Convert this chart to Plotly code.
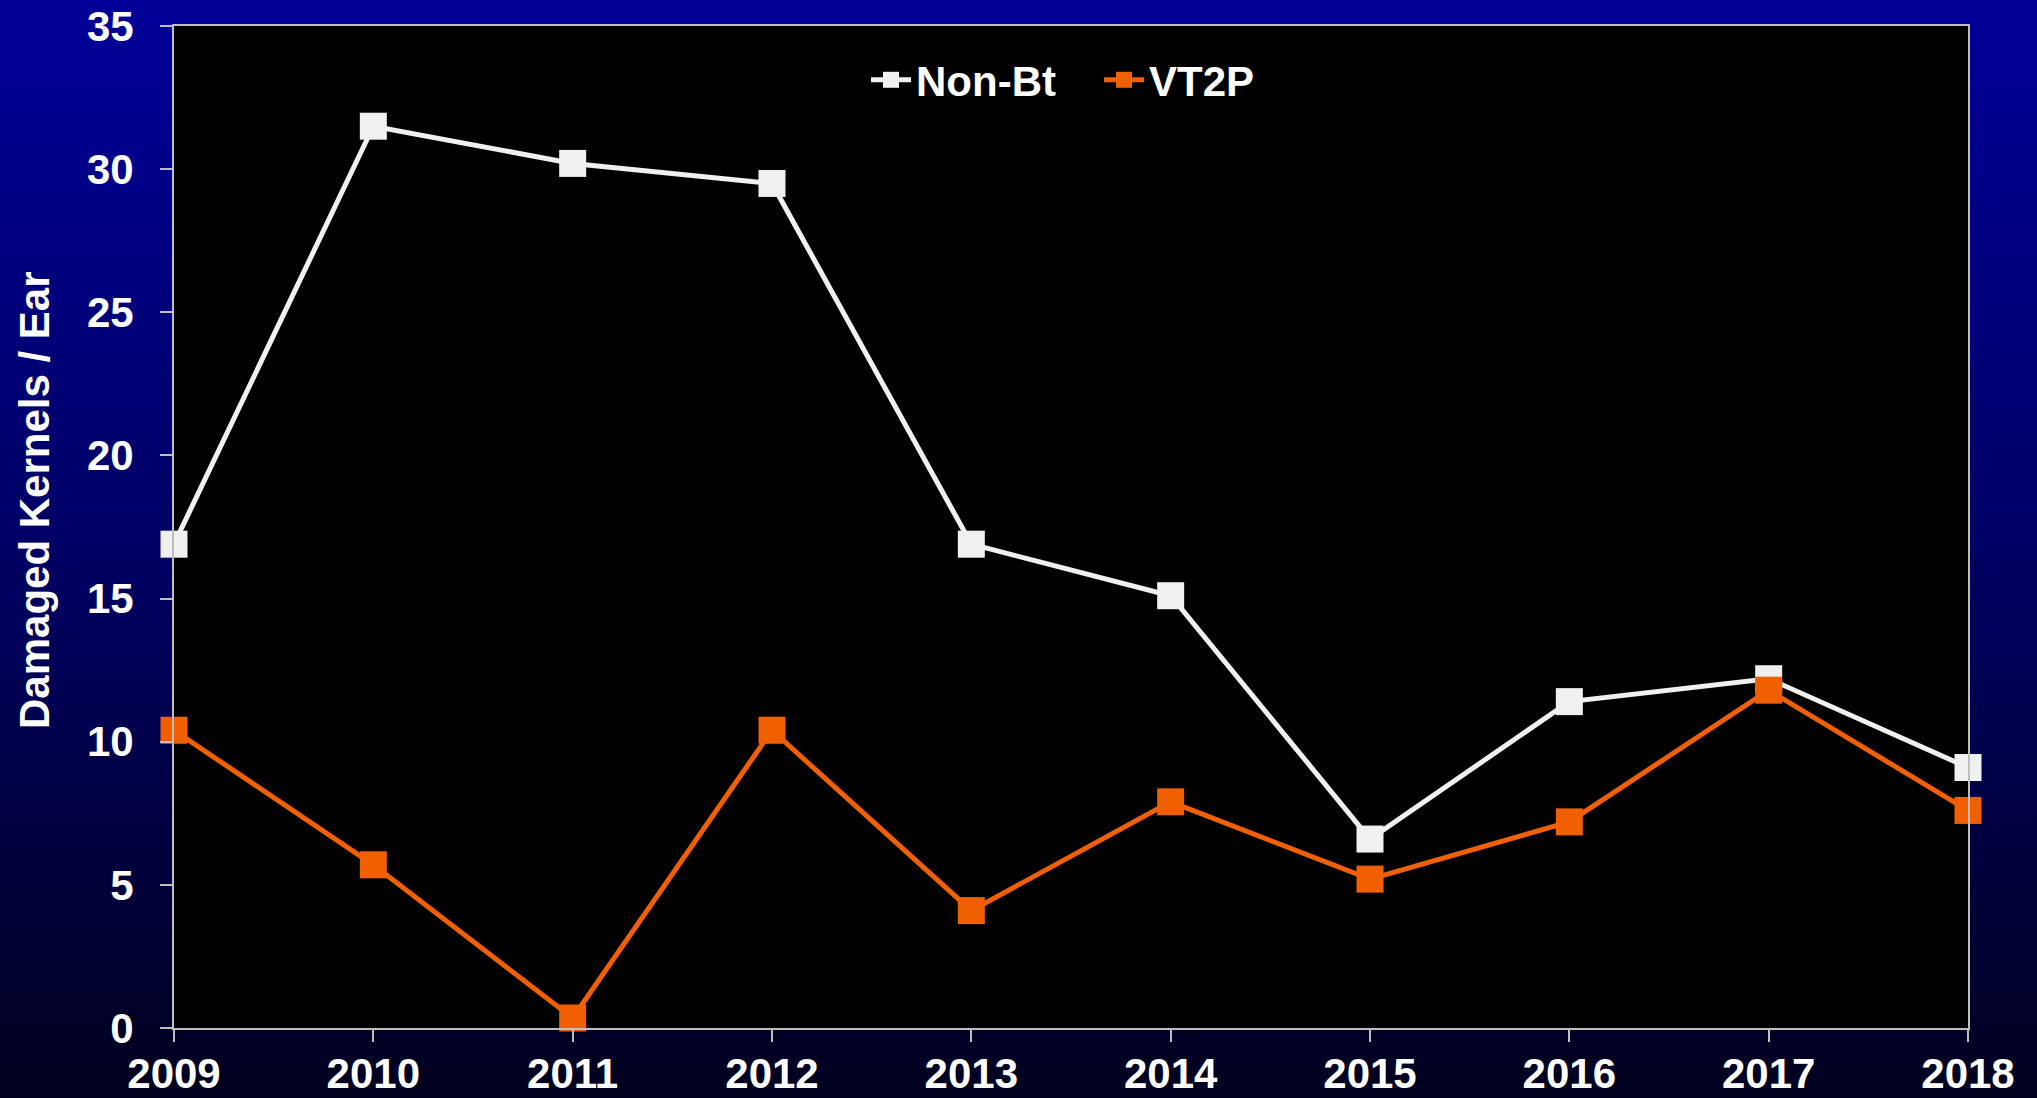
import base64
import plotly.graph_objects as go

years = [2009, 2010, 2011, 2012, 2013, 2014, 2015, 2016, 2017, 2018]
non_bt = [16.9, 31.5, 30.2, 29.5, 16.9, 15.1, 6.6, 11.4, 12.2, 9.1]
vt2p = [10.4, 5.7, 0.35, 10.4, 4.1, 7.9, 5.2, 7.2, 11.8, 7.6]
y_ticks = [0, 5, 10, 15, 20, 25, 30, 35]

W, H = 2037, 1098
L, R, T, B = 174, 69, 26, 70
pw, ph = W - L - R, H - T - B

FONT = "Liberation Sans, Arial, sans-serif"
WHITE = "#F0F0F0"
ORANGE = "#F06000"
AXIS = "#BEBEBE"

svg = ('<svg xmlns="http://www.w3.org/2000/svg" width="10" height="100" viewBox="0 0 10 100" '
       'preserveAspectRatio="none"><defs><linearGradient id="g" x1="0" y1="0" x2="0" y2="1">'
       '<stop offset="0" stop-color="#000098"/><stop offset="0.5" stop-color="#000064"/>'
       '<stop offset="1" stop-color="#00001E"/></linearGradient></defs>'
       '<rect width="10" height="100" fill="url(#g)"/></svg>')
src = "data:image/svg+xml;base64," + base64.b64encode(svg.encode()).decode()

fig = go.Figure()
fig.add_trace(go.Scatter(x=years, y=non_bt, name="Non-Bt", mode="lines+markers",
                         line=dict(color=WHITE, width=5),
                         marker=dict(symbol="square", size=27, color=WHITE),
                         cliponaxis=False))
fig.add_trace(go.Scatter(x=years, y=vt2p, name="VT2P", mode="lines+markers",
                         line=dict(color=ORANGE, width=5),
                         marker=dict(symbol="square", size=27, color=ORANGE),
                         cliponaxis=False))

fig.update_layout(
    width=W, height=H,
    margin=dict(l=L, r=R, t=T, b=B, pad=0, autoexpand=False),
    paper_bgcolor="#000050",
    plot_bgcolor="rgba(0,0,0,0)",
    font=dict(family=FONT, size=42, color="#FFFFFF", weight="bold"),
    showlegend=True,
    legend=dict(orientation="h", x=(866 - L) / pw, xanchor="left", y=(H - B - 80) / ph, yanchor="middle",
                bgcolor="rgba(0,0,0,0)", font=dict(size=42, color="#FFFFFF", family=FONT, weight="bold"),
                itemwidth=40, tracegroupgap=0, entrywidth=178),
    images=[dict(source=src, xref="paper", yref="paper", x=-L / pw, y=1 + T / ph,
                 sizex=W / pw, sizey=H / ph, xanchor="left", yanchor="top",
                 sizing="stretch", layer="below")],
    shapes=[dict(type="rect", xref="paper", yref="paper", x0=0, x1=1, y0=0, y1=1,
                 fillcolor="#000000", line=dict(width=0), layer="below")],
    annotations=[dict(text="Damaged Kernels / Ear", textangle=-90, xref="paper", yref="paper",
                      x=(35 - L) / pw, y=(H - B - 500) / ph, xanchor="center", yanchor="middle",
                      showarrow=False, font=dict(size=42, color="#FFFFFF", family=FONT, weight="bold"))],
)
fig.update_xaxes(range=[2009, 2018], tickmode="array", tickvals=years, ticktext=[str(y) for y in years],
                 showgrid=False, zeroline=False, showline=True, linecolor=AXIS, linewidth=2,
                 mirror=True, ticks="outside", ticklen=12, tickwidth=2, tickcolor=AXIS,
                 ticklabelstandoff=-4, automargin=False,
                 tickfont=dict(size=42, color="#FFFFFF", family=FONT, weight="bold"))
fig.update_yaxes(range=[0, 35], tickmode="array", tickvals=y_ticks, ticktext=[str(v) for v in y_ticks],
                 showgrid=False, zeroline=False, showline=True, linecolor=AXIS, linewidth=2,
                 mirror=True, ticks="outside", ticklen=12, tickwidth=2, tickcolor=AXIS,
                 ticklabelstandoff=18, automargin=False,
                 tickfont=dict(size=42, color="#FFFFFF", family=FONT, weight="bold"))

fig.write_html("out.html", config={"displayModeBar": False},
               post_script="document.body.style.margin='0';document.body.style.background='#00001E';"
                           "document.body.style.overflow='hidden';")
